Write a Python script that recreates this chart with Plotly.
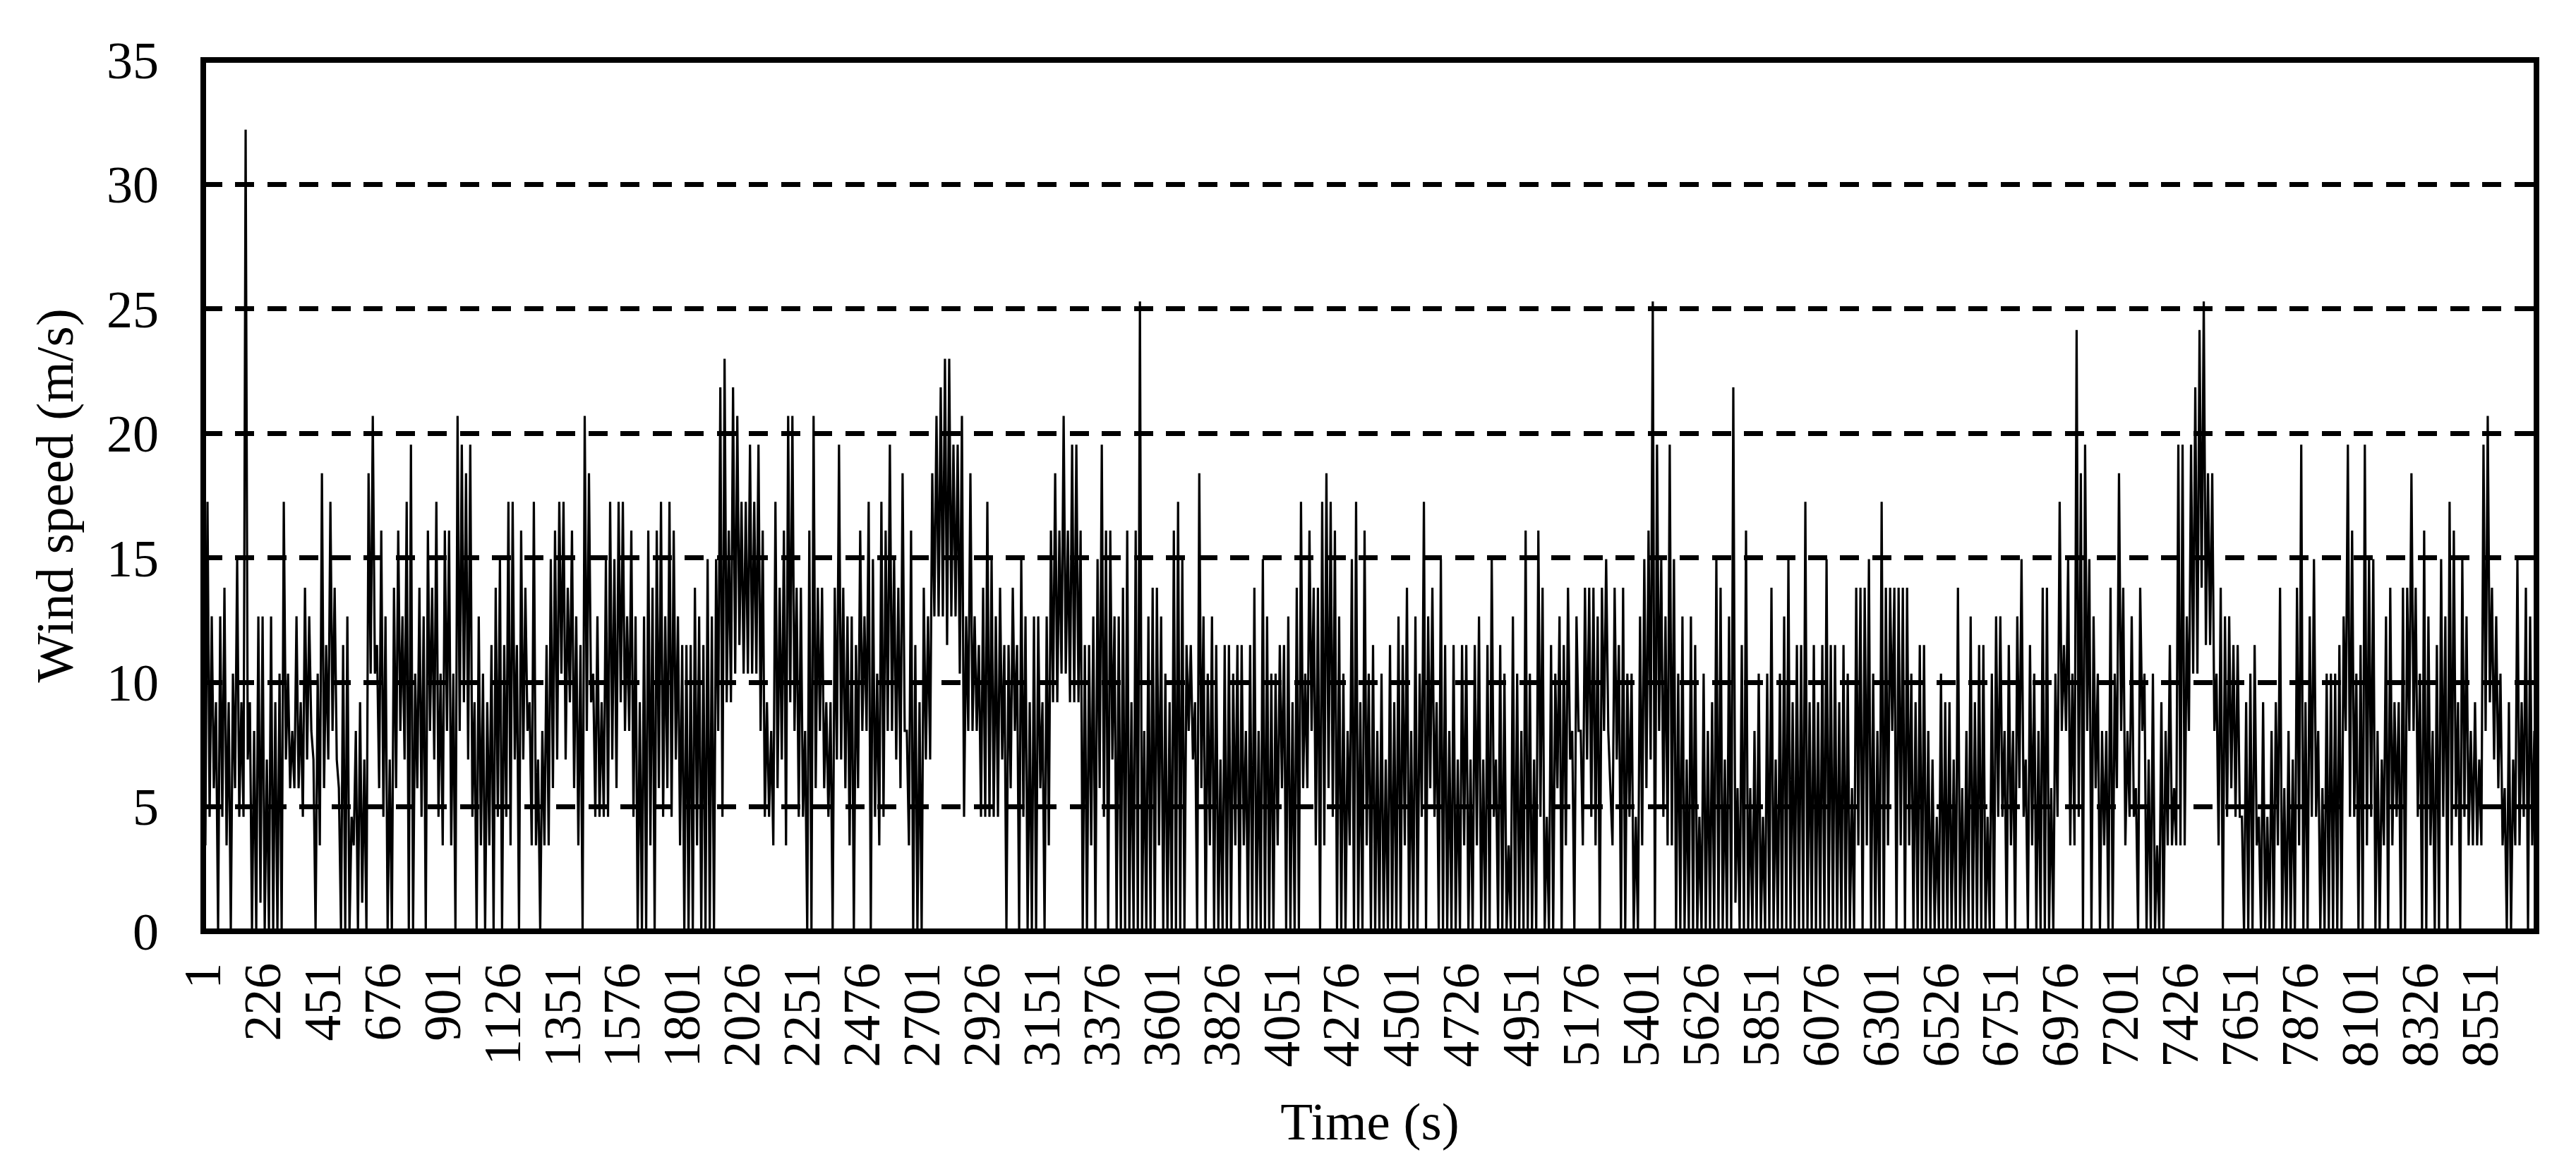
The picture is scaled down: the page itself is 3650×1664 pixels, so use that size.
import plotly.graph_objects as go

# Wind speed read off the picture as anemometer levels (1 level = 1.15 m/s),
# alternating local peak and local trough, section by section along the time axis.
WIND_STEP = 1.15
section_1 = [16,3,15,4,11,5,8,0,11,4,12,3,8,0,9,5,13,4,8,4,28,6,8,0,7,0,11,1,11,0,6,0,11,0,8,0,9,0,15,6,9,5,7,5,11,5,8,4,12,6,11,7,6,0,9,3,16,5,10,6,15,7,12,6,5,0,10,0,11,0,4,3,7,0,8,1,6,0,16,9,18,9,10,5,14,4,11,0,6,0,12,5,14,7,11,6,15,0,17,0,9,5,12,4,11,0,14,7,12,6,15,4,9,3,14,7,14,3,9,0,18,7,17,8,16,6,17,4,8,0,11,3,9,0,8,3,10,0]
section_2 = [12,4,13,0,10,4,15,3,15,6,10,0,14,6,12,7,8,3,15,3,6,0,7,3,10,3,13,5,14,6,15,9,15,6,12,8,14,5,11,3,10,0,18,7,16,8,9,4,11,4,8,4,13,4,15,6,13,5,15,8,15,7,11,7,14,4,11,0,8,0,11,0,14,3,12,0,14,5,15,4,11,5,15,4,14,6,11,3,10,0,10,0,10,0,12,3,11,0,10,0,13,0,11,0,13,7,19,4,20,8,14,8,19,9,18,10,15,9,15,9,17,9,15,9,17,7,14,4,8,4,7,3,15,5,12,6,14,3]
section_3 = [18,8,18,7,12,4,12,4,7,0,14,0,18,5,12,7,12,5,8,4,8,0,12,6,17,6,12,5,11,3,11,0,10,5,14,7,11,7,15,0,13,4,9,3,15,4,14,7,17,7,13,6,12,5,16,7,7,3,14,0,10,0,8,0,12,6,11,6,16,11,18,11,19,11,20,10,20,11,17,11,17,9,18,4,11,7,16,7,11,7,10,4,12,4,15,4,13,4,11,4,12,6,10,0,10,5,12,7,10,0,13,4,11,0,8,0,11,0,11,5,8,0,11,3,14,8,16,8,14,9,18,9,14,8,17,8,17,8]
section_4 = [14,0,10,0,10,3,11,0,13,5,17,4,14,0,14,6,11,0,11,0,12,0,14,0,8,0,14,0,22,0,7,0,11,0,12,0,12,3,11,0,9,0,8,0,14,0,15,0,13,0,10,7,10,6,8,0,16,5,11,0,9,3,11,0,10,0,6,0,10,0,10,0,9,3,10,0,10,3,7,0,10,0,12,0,7,0,13,0,11,0,9,0,9,3,10,5,10,0,11,0,8,0,12,0,15,5,9,5,14,7,12,3,12,0,15,3,16,5,15,4,14,0,11,0,9,0,7,3,13,0,15,0,8,0,14,3,9,0]
section_5 = [10,0,7,0,9,0,6,0,10,0,8,0,11,0,10,3,12,0,7,0,11,0,9,4,15,0,11,5,12,4,8,0,13,0,10,0,7,0,10,0,6,0,10,3,10,0,6,0,10,3,11,0,6,0,10,0,13,4,6,0,10,0,9,0,3,0,11,0,9,0,7,0,14,0,9,0,6,0,14,4,12,0,4,0,10,0,9,5,11,0,10,3,12,6,7,0,11,7,7,3,12,6,12,4,12,3,11,0,12,7,13,7,5,3,12,6,10,0,12,0,9,4,9,0,4,0,11,3,13,5,14,6,22,0,17,7,13,4]
section_6 = [11,3,17,3,13,0,9,0,11,0,6,0,11,0,10,0,4,0,9,0,7,0,8,0,13,0,12,0,6,0,11,0,19,1,5,0,10,0,14,0,5,0,7,0,9,0,4,0,9,0,12,0,6,0,9,0,11,0,13,0,8,0,10,0,10,0,15,0,8,0,10,0,8,0,10,0,13,0,10,0,10,0,8,0,10,0,9,0,5,0,12,3,12,0,12,3,13,0,9,0,7,0,15,0,12,3,12,7,12,0,12,3,12,0,12,3,9,0,8,0,10,0,10,0,7,0,6,0,4,0,9,0,8,0,8,0,6,0]
section_7 = [12,0,5,0,7,0,11,0,8,0,10,0,10,0,4,0,9,0,11,4,11,4,7,0,10,3,7,0,11,5,13,4,6,0,10,3,9,0,7,0,12,0,12,0,5,0,9,4,15,7,10,7,13,3,9,3,21,4,16,0,17,7,13,0,11,5,9,0,7,3,7,0,12,0,9,5,16,7,12,3,7,4,11,4,5,0,12,7,9,0,6,0,9,0,3,0,8,0,7,3,10,3,5,3,17,3,17,3,11,7,17,9,19,9,21,12,22,10,16,10,16,7,9,3,12,0,11,4,11,5,10,4,10,4,4,0,8,0]
section_8 = [9,0,10,3,4,0,8,0,4,0,7,0,8,3,12,0,5,0,7,0,6,0,12,3,17,0,8,0,11,4,13,4,7,0,5,0,9,0,9,0,9,0,10,0,11,7,17,4,14,4,9,0,10,0,17,3,13,4,13,0,7,0,6,3,11,0,12,3,8,4,8,0,12,0,12,7,16,7,12,4,9,0,14,0,11,3,7,0,10,0,13,4,11,0,15,3,14,4,8,0,13,4,11,3,7,3,8,3,6,3,17,7,18,8,12,6,11,5,9,3,5,0,8,0,6,3,13,3,8,4,12,0,11,3,7,0]

wind_levels = (section_1 + section_2 + section_3 + section_4
               + section_5 + section_6 + section_7 + section_8)
wind_speed = [v * WIND_STEP for v in wind_levels]

FIRST_HOUR = 1
LAST_HOUR = 8761
hours_per_sample = (LAST_HOUR - FIRST_HOUR) / (len(wind_speed) - 1)
time_s = [FIRST_HOUR + i * hours_per_sample for i in range(len(wind_speed))]

x_ticks = list(range(1, 8552, 225))
y_ticks = [0, 5, 10, 15, 20, 25, 30, 35]

FONT = "Liberation Serif"

fig = go.Figure(go.Scatter(x=time_s, y=wind_speed, mode="lines",
                           line=dict(color="black", width=3.2), hoverinfo="skip"))

fig.update_layout(
    width=3650, height=1664,
    margin=dict(l=288, r=56, t=85, b=344, autoexpand=False),
    paper_bgcolor="white", plot_bgcolor="white", showlegend=False,
    font=dict(family=FONT, size=74, color="black"),
    shapes=[dict(type="rect", xref="paper", yref="paper", x0=0, x1=1, y0=0, y1=1,
                 line=dict(color="black", width=8), layer="above")],
)
fig.update_xaxes(
    range=[FIRST_HOUR, LAST_HOUR], tickmode="array", tickvals=x_ticks,
    ticktext=[str(t) for t in x_ticks], tickangle=-90, ticks="",
    showgrid=False, zeroline=False, showline=False, ticklabelstandoff=29,
    title=dict(text="Time (s)", font=dict(family=FONT, size=75), standoff=50),
    automargin=False,
)
fig.update_yaxes(
    range=[0, 35], tickmode="array", tickvals=y_ticks, ticks="",
    showgrid=True, gridcolor="black", gridwidth=7, griddash="27px,18.48px",
    zeroline=False, showline=False, ticklabelstandoff=62,
    title=dict(text="Wind speed (m/s)", font=dict(family=FONT, size=75), standoff=22),
    automargin=False,
)

fig.write_html("out.html", config={"displayModeBar": False},
               post_script="document.body.style.margin='0';window.dispatchEvent(new Event('resize'));")
